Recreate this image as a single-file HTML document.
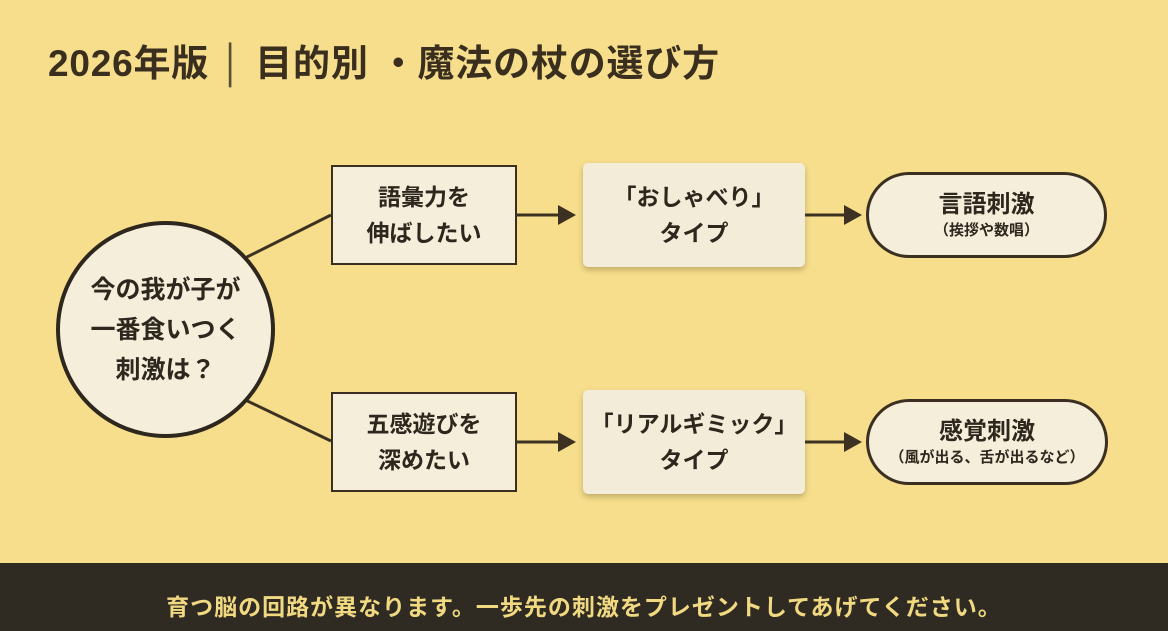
<!DOCTYPE html>
<html><head><meta charset="utf-8"><style>
*{margin:0;padding:0;box-sizing:border-box}
html,body{width:1168px;height:631px;overflow:hidden;background:#f6de8c}
body{font-family:"Liberation Sans","Noto Sans CJK JP",sans-serif;color:#2e271d;position:relative;font-weight:bold}
.t{position:absolute;left:48px;top:33px;font-size:37px;letter-spacing:0.8px;white-space:nowrap;color:#3a2f1f}
.n{position:absolute;display:flex;align-items:center;justify-content:center;text-align:center;background:#f5eedb;white-space:nowrap}
.b{border:2.5px solid #3a2f20;font-size:23px;line-height:36px}
.s{border-radius:5px;box-shadow:0 3px 6px rgba(80,60,20,.3);font-size:23px;line-height:36px;background:#f3ecd9}
.p{border:3px solid #3a2f20;border-radius:45px;font-size:24px;line-height:32px;flex-direction:column}
.p small{font-size:15px;line-height:20px}
.c{border:4px solid #2e271d;border-radius:50%;font-size:25px;line-height:40px}
.f{position:absolute;left:0;top:563px;width:1168px;height:68px;background:#2f2a22;color:#f1d982;font-size:23px;letter-spacing:1px;text-align:center;line-height:88px;white-space:nowrap}
svg{position:absolute;left:0;top:0}
</style></head><body>
<div class="t">2026年版 <span style="font-weight:normal;color:#5a4c35">│</span> 目的別 ・魔法の杖の選び方</div>
<svg width="1168" height="631">
<g stroke="#3d3222" stroke-width="3" fill="none">
<line x1="237" y1="262" x2="331" y2="215"/>
<line x1="237" y1="396" x2="331" y2="441"/>
<line x1="517" y1="215" x2="560" y2="215"/>
<line x1="805" y1="215" x2="846" y2="215"/>
<line x1="517" y1="442" x2="560" y2="442"/>
<line x1="805" y1="442" x2="846" y2="442"/>
</g>
<g fill="#3d3222">
<polygon points="558,205 576,215 558,225"/>
<polygon points="844,205 862,215 844,225"/>
<polygon points="558,432 576,442 558,452"/>
<polygon points="844,432 862,442 844,452"/>
</g>
</svg>
<div class="n c" style="left:56px;top:221px;width:219px;height:217px">今の我が子が<br>一番食いつく<br>刺激は？</div>
<div class="n b" style="left:331px;top:165px;width:186px;height:100px">語彙力を<br>伸ばしたい</div>
<div class="n b" style="left:331px;top:392px;width:186px;height:100px">五感遊びを<br>深めたい</div>
<div class="n s" style="left:583px;top:163px;width:222px;height:104px">「おしゃべり」<br>タイプ</div>
<div class="n s" style="left:583px;top:390px;width:222px;height:104px">「リアルギミック」<br>タイプ</div>
<div class="n p" style="left:866px;top:172px;width:241px;height:86px"><div>言語刺激</div><small>（挨拶や数唱）</small></div>
<div class="n p" style="left:866px;top:399px;width:242px;height:86px"><div>感覚刺激</div><small>（風が出る、舌が出るなど）</small></div>
<div class="f">育つ脳の回路が異なります。一歩先の刺激をプレゼントしてあげてください。</div>
</body></html>
